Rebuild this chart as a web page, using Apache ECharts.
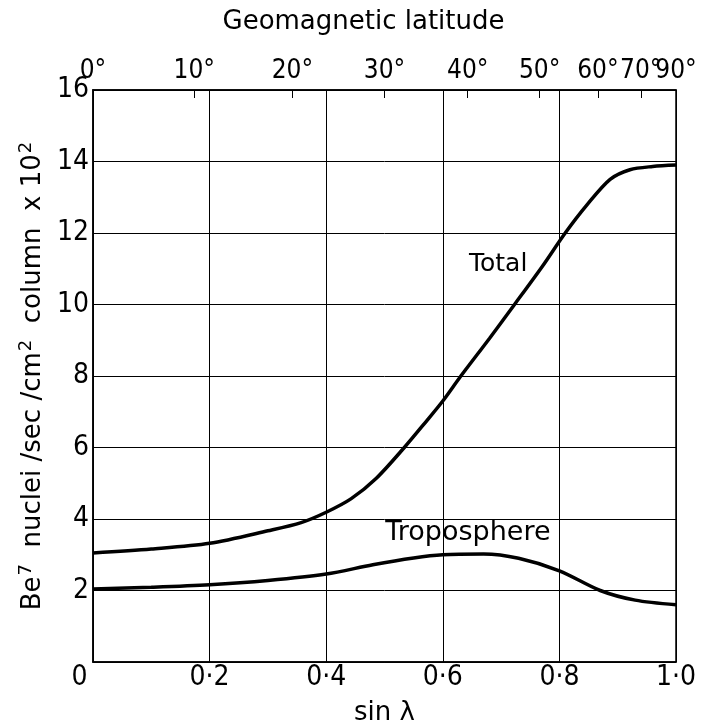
<!DOCTYPE html>
<html><head><meta charset="utf-8">
<script src="https://cdn.jsdelivr.net/npm/echarts@6/dist/echarts.min.js"></script>
<style>html,body{margin:0;padding:0;background:#fff}#c{width:713px;height:727px}</style>
</head><body><div id="c"></div>
<script>
// sin(lambda) positions and values
const totalX = [0, 0.1, 0.2, 0.3, 0.357, 0.4, 0.443, 0.486, 0.534, 0.571, 0.6, 0.631, 0.68, 0.723, 0.77, 0.81, 0.848, 0.887, 0.921, 0.96, 1.0];
const totalY = [3.05, 3.16, 3.32, 3.67, 3.9, 4.19, 4.57, 5.14, 6.0, 6.72, 7.3, 8.0, 9.05, 10.0, 11.05, 12.0, 12.8, 13.5, 13.77, 13.86, 13.9];
const tropoX = [0, 0.1, 0.2, 0.3, 0.4, 0.48, 0.55, 0.6, 0.67, 0.73, 0.8, 0.87, 0.93, 1.0];
const tropoY = [2.04, 2.09, 2.16, 2.28, 2.46, 2.72, 2.91, 3.0, 3.02, 2.9, 2.55, 2.0, 1.73, 1.6];
const latitudeDeg = [0, 10, 20, 30, 40, 50, 60, 70, 90];
const yTicks = [2, 4, 6, 8, 10, 12, 14, 16];
const xTicks = [0, 0.2, 0.4, 0.6, 0.8, 1.0];
const seriesNames = ['Total', 'Troposphere'];

const FONT = 'DejaVu Sans';
const TFONT = 'DejaVu Sans Condensed, DejaVu Sans';
const latPos = latitudeDeg.map(d => Math.sin(d * Math.PI / 180));
// labels split over two overlaid top axes so that crowded 70°/90° are both shown
const latPosA = latPos.filter((p, i) => latitudeDeg[i] !== 70);
const latPosB = latPos.filter((p, i) => latitudeDeg[i] === 70);
const pairs = (xs, ys) => xs.map((x, i) => [x, ys[i]]);
const degFmt = v => Math.round(Math.asin(Math.min(1, v)) * 180 / Math.PI) + '°';

const chart = echarts.init(document.getElementById('c'), null, {renderer: 'canvas'});
const topLabel = {color: '#000', fontFamily: TFONT, fontSize: 26, margin: 6,
  showMinLabel: true, showMaxLabel: true, hideOverlap: false, formatter: degFmt};
chart.setOption({
  backgroundColor: '#fff',
  animation: false,
  grid: {left: 93, right: 37, top: 90, bottom: 65, show: true, borderColor: '#000', borderWidth: 1.5,
    containLabel: false, outerBoundsMode: 'none'},
  xAxis: [{
    type: 'value', min: 0, max: 1, interval: 0.2, position: 'bottom',
    axisLine: {show: true, lineStyle: {color: '#000', width: 1.5}},
    axisTick: {show: false},
    splitLine: {show: true, lineStyle: {color: '#000', width: 1}},
    axisLabel: {color: '#000', fontFamily: TFONT, fontSize: 28, margin: 2,
      customValues: xTicks, showMinLabel: true, showMaxLabel: true,
      formatter: v => v === 0 ? '{z|0}' : v.toFixed(1).replace('.', '·'),
      rich: {z: {fontFamily: TFONT, fontSize: 28, color: '#000', padding: [0, 27, 0, 0]}}},
    name: 'sin λ', nameLocation: 'middle', nameGap: 38,
    nameTextStyle: {color: '#000', fontFamily: FONT, fontSize: 26}
  }, {
    type: 'value', min: 0, max: 1, position: 'top',
    axisLine: {show: true, lineStyle: {color: '#000', width: 1.5}},
    axisTick: {show: true, inside: true, length: 8, customValues: latPos, lineStyle: {color: '#000', width: 1}},
    splitLine: {show: false},
    axisLabel: Object.assign({customValues: latPosA}, topLabel),
    name: 'Geomagnetic latitude', nameLocation: 'middle', nameGap: 55,
    nameTextStyle: {color: '#000', fontFamily: FONT, fontSize: 26, padding: [0, 42, 0, 0]}
  }, {
    type: 'value', min: 0, max: 1, position: 'top',
    axisLine: {show: false}, axisTick: {show: false}, splitLine: {show: false},
    axisLabel: Object.assign({customValues: latPosB}, topLabel)
  }],
  yAxis: {
    type: 'value', min: 0, max: 16, interval: 2,
    axisLine: {show: true, lineStyle: {color: '#000', width: 1.5}},
    axisTick: {show: false},
    splitLine: {show: true, lineStyle: {color: '#000', width: 1}},
    axisLabel: {color: '#000', fontFamily: TFONT, fontSize: 28, margin: 4,
      customValues: yTicks, showMinLabel: true, showMaxLabel: true},
    name: '{t|Be}{s|7}{t|  nuclei /sec /cm}{s|2}{t|  column  x 10}{s|2}', nameLocation: 'middle', nameGap: 40,
    nameTextStyle: {color: '#000', fontFamily: FONT, fontSize: 26, padding: [0, 0, 0, 0],
      rich: {
        t: {fontFamily: FONT, fontSize: 26, color: '#000'},
        s: {fontFamily: FONT, fontSize: 18, color: '#000', padding: [0, 0, 14, 1]}
      }}
  },
  series: [{
    name: seriesNames[0], type: 'line', xAxisIndex: 0, data: pairs(totalX, totalY),
    smooth: 0.3, showSymbol: false,
    lineStyle: {color: '#000', width: 3.5},
    markPoint: {symbol: 'rect', symbolSize: 1, silent: true, itemStyle: {color: 'rgba(0,0,0,0)'},
      data: [{coord: [0.695, 11.13], label: {show: true, formatter: seriesNames[0], color: '#000', fontFamily: FONT, fontSize: 25, position: 'inside', align: 'center', verticalAlign: 'middle'}}]}
  }, {
    name: seriesNames[1], type: 'line', xAxisIndex: 0, data: pairs(tropoX, tropoY),
    smooth: 0.3, showSymbol: false,
    lineStyle: {color: '#000', width: 3.5},
    markPoint: {symbol: 'rect', symbolSize: 1, silent: true, itemStyle: {color: 'rgba(0,0,0,0)'},
      data: [{coord: [0.643, 3.62], label: {show: true, formatter: seriesNames[1], color: '#000', fontFamily: FONT, fontSize: 27, position: 'inside', align: 'center', verticalAlign: 'middle'}}]}
  }]
});
</script></body></html>
